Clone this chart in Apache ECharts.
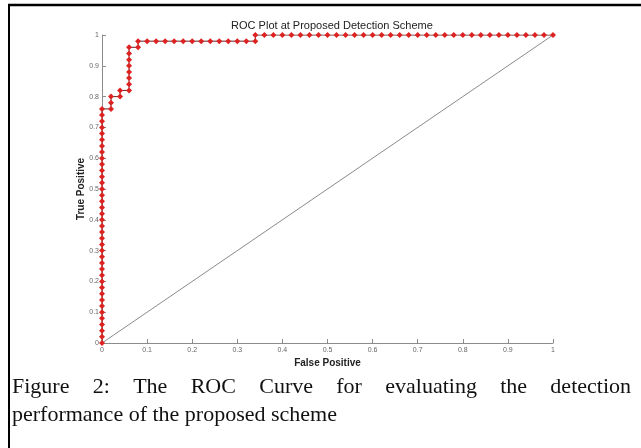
<!DOCTYPE html>
<html>
<head>
<meta charset="utf-8">
<script src="https://cdn.jsdelivr.net/npm/echarts@6/dist/echarts.min.js"></script>
<style>
html,body{margin:0;padding:0;background:#fff;}
#c{width:641px;height:448px;}
</style>
</head>
<body>
<div id="c"></div>
<script>
// ---- data ----
const fpr = [
  0,0,0,0,0,0,0,0,0,0,0,0,0,0,0,0,0,0,0,0,0,0,0,0,0,0,0,0,0,0,0,0,0,0,0,0,0,0,0,
  0.02,0.02,0.02,
  0.04,0.04,
  0.06,0.06,0.06,0.06,0.06,0.06,0.06,0.06,
  0.08,0.08,
  0.10,0.12,0.14,0.16,0.18,0.20,0.22,0.24,0.26,0.28,0.30,0.32,0.34,
  0.34,
  0.36,0.38,0.40,0.42,0.44,0.46,0.48,0.50,0.52,0.54,0.56,0.58,0.60,0.62,0.64,0.66,
  0.68,0.70,0.72,0.74,0.76,0.78,0.80,0.82,0.84,0.86,0.88,0.90,0.92,0.94,0.96,0.98,1.00
];
const tpr = [
  0,0.02,0.04,0.06,0.08,0.10,0.12,0.14,0.16,0.18,0.20,0.22,0.24,0.26,0.28,0.30,0.32,0.34,0.36,0.38,
  0.40,0.42,0.44,0.46,0.48,0.50,0.52,0.54,0.56,0.58,0.60,0.62,0.64,0.66,0.68,0.70,0.72,0.74,0.76,
  0.76,0.78,0.80,
  0.80,0.82,
  0.82,0.84,0.86,0.88,0.90,0.92,0.94,0.96,
  0.96,0.98,
  0.98,0.98,0.98,0.98,0.98,0.98,0.98,0.98,0.98,0.98,0.98,0.98,0.98,
  1.00,
  1.00,1.00,1.00,1.00,1.00,1.00,1.00,1.00,1.00,1.00,1.00,1.00,1.00,1.00,1.00,1.00,
  1.00,1.00,1.00,1.00,1.00,1.00,1.00,1.00,1.00,1.00,1.00,1.00,1.00,1.00,1.00,1.00,1.00
];
const chanceX = [0, 1];
const chanceY = [0, 1];
const chartTitle = 'ROC Plot at Proposed Detection Scheme';
const xName = 'False Positive';
const yName = 'True Positive';
const captionLine1 = ['Figure', '2:', 'The', 'ROC', 'Curve', 'for', 'evaluating', 'the', 'detection'];
const captionLine2 = 'performance of the proposed scheme';

// ---- build ----
const rocData = fpr.map((x, i) => [x, tpr[i]]);
const chanceData = chanceX.map((x, i) => [x, chanceY[i]]);

const capFont = '22px "Liberation Serif", "Times New Roman", serif';
const cv = document.createElement('canvas').getContext('2d');
cv.font = capFont;
const capLeft = 12, capRight = 631;
const widths = captionLine1.map(w => cv.measureText(w).width);
const totalW = widths.reduce((a, b) => a + b, 0);
const gap = (capRight - capLeft - totalW) / (captionLine1.length - 1);
const capGraphics = [];
let cx = capLeft;
captionLine1.forEach((w, i) => {
  capGraphics.push({
    type: 'text', x: cx, y: 376,
    style: { text: w, font: capFont, fill: '#111', verticalAlign: 'top', align: 'left' }
  });
  cx += widths[i] + gap;
});
capGraphics.push({
  type: 'text', x: capLeft, y: 404,
  style: { text: captionLine2, font: capFont, fill: '#111', verticalAlign: 'top', align: 'left' }
});

const axisCol = '#8c8c8c';
const lblStyle = { fontSize: 7, color: '#666', fontFamily: 'Liberation Sans, Arial, sans-serif' };
const nameStyle = { fontSize: 10, fontWeight: 'bold', color: '#222', fontFamily: 'Liberation Sans, Arial, sans-serif' };

const chart = echarts.init(document.getElementById('c'), null, { renderer: 'canvas' });
chart.setOption({
  animation: false,
  backgroundColor: '#fff',
  title: {
    text: chartTitle,
    left: 327, top: 15, textAlign: 'center',
    textStyle: { fontSize: 11, fontWeight: 'normal', color: '#222', fontFamily: 'Liberation Sans, Arial, sans-serif' }
  },
  grid: { left: 102, right: 88, top: 35, bottom: 105, containLabel: false },
  xAxis: {
    type: 'value', min: 0, max: 1, interval: 0.1,
    name: xName, nameLocation: 'middle', nameGap: 15, nameTextStyle: nameStyle,
    nameMoveOverlap: false,
    axisLine: { show: true, lineStyle: { color: axisCol, width: 1 } },
    axisTick: { show: true, inside: true, length: 4, lineStyle: { color: axisCol } },
    axisLabel: Object.assign({ margin: 4 }, lblStyle),
    splitLine: { show: false }
  },
  yAxis: {
    type: 'value', min: 0, max: 1, interval: 0.1,
    name: yName, nameLocation: 'middle', nameGap: 16, nameTextStyle: nameStyle,
    nameMoveOverlap: false,
    axisLine: { show: true, lineStyle: { color: axisCol, width: 1 } },
    axisTick: { show: true, inside: true, length: 4, lineStyle: { color: axisCol } },
    axisLabel: Object.assign({ margin: 3 }, lblStyle),
    splitLine: { show: false }
  },
  series: [
    {
      type: 'line', data: chanceData, symbol: 'none', silent: true,
      lineStyle: { color: '#8a8a8a', width: 1 }
    },
    {
      type: 'line', data: rocData, symbol: 'diamond', symbolSize: 6,
      itemStyle: { color: '#dd2222' },
      lineStyle: { color: '#6a2020', width: 1 }
    }
  ],
  graphic: [
    { type: 'line', shape: { x1: 8, y1: 5, x2: 641, y2: 5 }, style: { stroke: '#000', lineWidth: 2.5 } },
    { type: 'line', shape: { x1: 9, y1: 4, x2: 9, y2: 448 }, style: { stroke: '#000', lineWidth: 2 } }
  ].concat(capGraphics)
});
</script>
</body>
</html>
